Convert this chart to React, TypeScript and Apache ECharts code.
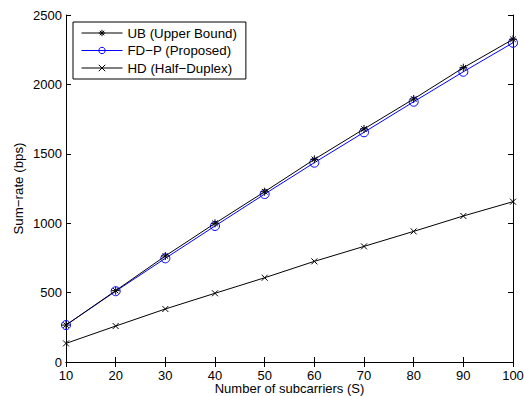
import React, { useEffect, useRef } from "react";
import * as echarts from "echarts";

const subcarriers = [10, 20, 30, 40, 50, 60, 70, 80, 90, 100];
const ubValues = [266, 514, 764, 999, 1227, 1460, 1679, 1895, 2120, 2325];
const fdpValues = [266, 510, 747, 980, 1210, 1436, 1655, 1875, 2091, 2300];
const hdValues = [134, 259, 382, 495, 607, 725, 833, 941, 1052, 1155];
const seriesNames = ["UB (Upper Bound)", "FD\u2212P (Proposed)", "HD (Half\u2212Duplex)"];

const FONT = "Liberation Sans, Arial, Helvetica, sans-serif";

const toPairs = (vals: number[]) => subcarriers.map((s, i) => [s, vals[i]]);

export default function App() {
  const ref = useRef<HTMLDivElement>(null);
  useEffect(() => {
    document.body.style.margin = "0";
    const chart = echarts.init(ref.current!, null, { renderer: "svg" });
    const asterisk = "path://M4,0L4,8M0,4L8,4M1.2,1.2L6.8,6.8M1.2,6.8L6.8,1.2";
    const cross = "path://M0,0L6,6M0,6L6,0";
    const tickStyle = { show: true, inside: true, length: 5, lineStyle: { color: "#000", width: 1 } };
    const lineAxis = { show: true, lineStyle: { color: "#000", width: 1 } };
    const plain = (v: number) => String(v);
    chart.setOption({
      animation: false,
      backgroundColor: "#fff",
      textStyle: { fontFamily: FONT },
      grid: { left: 66, right: 11, top: 15, bottom: 34, containLabel: false, outerBoundsMode: "none" },
      legend: {
        left: 73,
        top: 22,
        orient: "vertical",
        data: seriesNames,
        itemWidth: 41,
        itemHeight: 8,
        itemGap: 3.5,
        padding: [4, 9, 4, 8],
        borderColor: "#000",
        borderWidth: 1,
        backgroundColor: "#fff",
        lineStyle: { width: 1 },
        itemStyle: { borderWidth: 1 },
        textStyle: { fontFamily: FONT, fontSize: 13.3, color: "#000", lineHeight: 14 },
      },
      xAxis: [
        {
          type: "value",
          min: 10,
          max: 100,
          interval: 10,
          position: "bottom",
          name: "Number of subcarriers (S)",
          nameLocation: "middle",
          nameGap: 20,
          nameMoveOverlap: false,
          nameTextStyle: { fontFamily: FONT, fontSize: 13, color: "#000", lineHeight: 13, verticalAlign: "top" },
          axisLine: lineAxis,
          axisTick: tickStyle,
          axisLabel: { fontFamily: FONT, fontSize: 13, color: "#000", margin: 7, lineHeight: 12, formatter: plain },
          splitLine: { show: false },
        },
        {
          type: "value",
          min: 10,
          max: 100,
          interval: 10,
          position: "top",
          axisLine: lineAxis,
          axisTick: tickStyle,
          axisLabel: { show: false },
          splitLine: { show: false },
        },
      ],
      yAxis: [
        {
          type: "value",
          min: 0,
          max: 2500,
          interval: 500,
          position: "left",
          name: "Sum\u2212rate (bps)",
          nameLocation: "middle",
          nameGap: 41,
          nameMoveOverlap: false,
          nameTextStyle: { fontFamily: FONT, fontSize: 13.3, color: "#000" },
          axisLine: lineAxis,
          axisTick: tickStyle,
          axisLabel: { fontFamily: FONT, fontSize: 13, color: "#000", margin: 4, lineHeight: 12, formatter: plain },
          splitLine: { show: false },
        },
        {
          type: "value",
          min: 0,
          max: 2500,
          interval: 500,
          position: "right",
          axisLine: lineAxis,
          axisTick: tickStyle,
          axisLabel: { show: false },
          splitLine: { show: false },
        },
      ],
      series: [
        {
          name: seriesNames[0],
          type: "line",
          data: toPairs(ubValues),
          symbol: asterisk,
          symbolSize: 8,
          lineStyle: { color: "#000", width: 1 },
          itemStyle: { color: "#000", borderColor: "#000", borderWidth: 1 },
          z: 3,
        },
        {
          name: seriesNames[1],
          type: "line",
          data: toPairs(fdpValues),
          symbol: "circle",
          symbolSize: 9,
          lineStyle: { color: "#0000ff", width: 1 },
          itemStyle: { color: "rgba(0,0,0,0)", borderColor: "#0000ff", borderWidth: 1 },
          z: 2,
        },
        {
          name: seriesNames[2],
          type: "line",
          data: toPairs(hdValues),
          symbol: cross,
          symbolSize: 6,
          lineStyle: { color: "#000", width: 1 },
          itemStyle: { color: "#000", borderColor: "#000", borderWidth: 1 },
          z: 2,
        },
      ],
    });
    return () => chart.dispose();
  }, []);
  return <div ref={ref} style={{ position: "fixed", left: 0, top: 0, width: 524, height: 396 }} />;
}
